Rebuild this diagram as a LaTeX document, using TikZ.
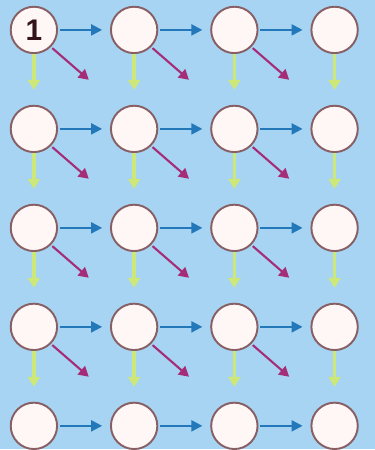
\documentclass[tikz,border=0pt]{standalone}
\usepackage{fontspec}
\setsansfont{Liberation Sans}
\usetikzlibrary{arrows.meta,calc}
\definecolor{bgblue}{RGB}{166,212,242}
\definecolor{ringbrown}{RGB}{135,95,100}
\definecolor{hblue}{RGB}{35,120,185}
\definecolor{vgreen}{RGB}{205,232,120}
\definecolor{dmagenta}{RGB}{165,45,120}
\definecolor{discfill}{RGB}{255,246,246}
\definecolor{digitbrown}{RGB}{50,20,25}
\begin{document}
\begin{tikzpicture}[
        every node/.style={font=\sffamily\bfseries},
        disc/.style={draw=ringbrown, circle, line width=1.1pt, fill=discfill, minimum size=0.93cm, inner sep=0pt},
        across/.style={-{Triangle[length=2.2mm,width=2.2mm]}, draw=hblue, line width=1.2pt, shorten <=1pt, shorten >=4.5pt},
        down/.style={-{Triangle[length=2mm,width=2.4mm]}, draw=vgreen, line width=2pt, shorten >=0.3cm},
        diag/.style={-{Triangle[length=2mm,width=2.2mm]}, draw=dmagenta, line width=1.2pt, shorten <=1pt}
    ]
        \fill[bgblue] (0,0) rectangle (7.52,-9);
        \foreach \r in {1,...,5}
            \foreach \c in {1,...,4}
                \node[disc] (c-\r-\c) at ({0.68+2.01*(\c-1)}, {-0.6-1.985*(\r-1)}) {};
        \node[text=digitbrown, font=\sffamily\bfseries\fontsize{17}{17}\selectfont] (start) at (c-1-1) {1};
        \foreach \r in {1,...,5}
            \foreach \c/\n in {1/2,2/3,3/4}
                \draw[across] (c-\r-\c) -- (c-\r-\n);
        \foreach \c in {1,...,4}
            \foreach \r/\n in {1/2,2/3,3/4,4/5}
                \draw[down] (c-\r-\c) -- (c-\n-\c);
        \foreach \r in {1,...,4}
            \foreach \c in {1,2,3} {
                \coordinate (m-\r-\c) at ($(c-\r-\c)+(1.1,-1.0)$);
                \draw[diag] (c-\r-\c.south east) -- (m-\r-\c);
            }
    \end{tikzpicture}
\end{document}
